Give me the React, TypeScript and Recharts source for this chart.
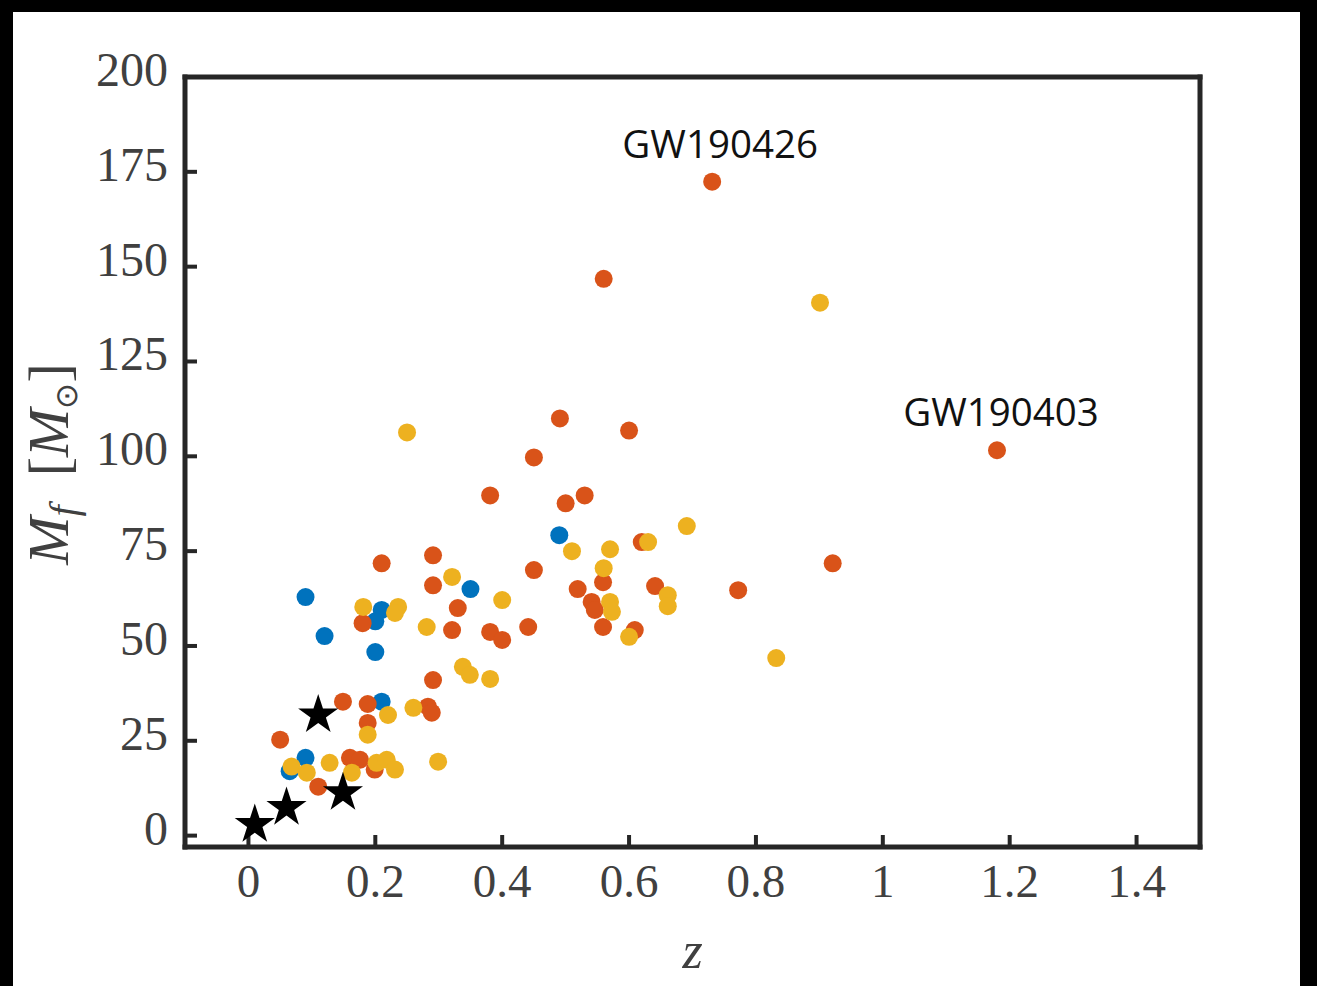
import { ScatterChart, Scatter, XAxis, YAxis, Symbols } from 'recharts';

// axis setup
const xTicks = [0, 0.2, 0.4, 0.6, 0.8, 1, 1.2, 1.4];
const yTicks = [0, 25, 50, 75, 100, 125, 150, 175, 200];

// [z, M_f]
const bluePoints = [
  [0.49, 79.2], [0.09, 62.9], [0.35, 65], [0.21, 59.5], [0.2, 56.5],
  [0.12, 52.6], [0.2, 48.4], [0.21, 35.3], [0.09, 20.5], [0.065, 17],
];

const redPoints = [
  [0.731, 172.4], [0.56, 146.8], [1.18, 101.6], [0.491, 110], [0.6, 106.8],
  [0.45, 99.7], [0.381, 89.7], [0.53, 89.7], [0.5, 87.6], [0.921, 71.8],
  [0.772, 64.7], [0.641, 65.8], [0.62, 77.4], [0.45, 70], [0.559, 66.8],
  [0.519, 65], [0.541, 61.6], [0.546, 59.5], [0.559, 55], [0.609, 54.2],
  [0.441, 55], [0.381, 53.7], [0.4, 51.6], [0.21, 71.8], [0.291, 73.9],
  [0.291, 66], [0.33, 60], [0.18, 56], [0.321, 54.2], [0.291, 41],
  [0.149, 35.3], [0.188, 34.7], [0.188, 29.7], [0.283, 34], [0.289, 32.4],
  [0.05, 25.3], [0.16, 20.5], [0.176, 20], [0.199, 17.4], [0.11, 12.9],
];

const yellowPoints = [
  [0.901, 140.5], [0.25, 106.3], [0.691, 81.6], [0.63, 77.4], [0.51, 75],
  [0.57, 75.5], [0.56, 70.5], [0.57, 61.6], [0.573, 59], [0.661, 63.4],
  [0.661, 60.5], [0.6, 52.4], [0.832, 46.8], [0.321, 68.2], [0.4, 62.1],
  [0.181, 60.3], [0.236, 60.3], [0.231, 58.7], [0.281, 55], [0.338, 44.5],
  [0.349, 42.4], [0.381, 41.3], [0.22, 31.8], [0.188, 26.6], [0.26, 33.7],
  [0.068, 18.2], [0.092, 16.6], [0.128, 19.2], [0.163, 16.6], [0.202, 19.2],
  [0.218, 20], [0.231, 17.4], [0.299, 19.5],
];

const starPoints = [
  [0.11, 31.8], [0.149, 11.3], [0.06, 7.4], [0.01, 2.9],
];

const annotations = [
  { z: 0.731, m: 172.4, text: 'GW190426', dx: 8 },
  { z: 1.18, m: 101.6, text: 'GW190403', dx: 4 },
];

const BLUE = '#0072BD';
const RED = '#D95319';
const YELLOW = '#EDB120';
const AXIS = '#262626';
const SERIF = '"Liberation Serif", "Times New Roman", serif';

const toRows = (pts: number[][]) => pts.map(([z, m]) => ({ z, m }));

const dot = (color: string) => (p: any) =>
  p.cx == null ? <g /> : <circle cx={p.cx} cy={p.cy} r={9} fill={color} />;

const star = (p: any) =>
  p.cx == null ? <g /> : <Symbols cx={p.cx} cy={p.cy} type="star" size={500} fill="#000" />;

const annotation = (p: any) =>
  p.cx == null ? <g /> : (
    <text
      x={p.cx + p.payload.dx}
      y={p.cy - 24}
      textAnchor="middle"
      fontFamily='"Open Sans", sans-serif'
      fontSize={38.5}
      fill="#111"
    >
      {p.payload.text}
    </text>
  );

const XTick = (p: any) => (
  <text x={p.x} y={p.y + 50} textAnchor="middle" fontFamily={SERIF} fontSize={47} fill="#404040">
    {p.payload.value}
  </text>
);

const YTick = (p: any) => (
  <text x={p.x} y={p.y + 9} textAnchor="end" fontFamily={SERIF} fontSize={48} fill="#404040">
    {p.payload.value}
  </text>
);

const XLabel = (p: any) => {
  const vb = p.viewBox;
  return (
    <text x={vb.x + vb.width / 2} y={vb.y + 121} textAnchor="middle" fontFamily={SERIF}
      fontStyle="italic" fontSize={52} fill="#404040">
      z
    </text>
  );
};

const YLabel = () => {
  const cx = 68;
  const cy = 464;
  return (
    <text x={cx} y={cy} transform={`rotate(-90, ${cx}, ${cy})`} textAnchor="middle"
      fontFamily={SERIF} fontSize={58} fill="#404040">
      <tspan fontStyle="italic">M</tspan>
      <tspan fontStyle="italic" fontSize={40} dy={9}>f</tspan>
      <tspan dy={-9}>{'\u2002['}</tspan>
      <tspan fontStyle="italic">M</tspan>
      <tspan fontSize={31} dy={9}>{'\u2299'}</tspan>
      <tspan dy={-9}>]</tspan>
    </text>
  );
};

const axisLine = { stroke: AXIS, strokeWidth: 5, strokeLinecap: 'square' as const };
const tickLine = { stroke: AXIS, strokeWidth: 4 };

export default function App() {
  return (
    <div style={{ position: 'absolute', left: 0, top: 0, width: 1317, height: 986, background: '#fff' }}>
      <ScatterChart width={1317} height={986} margin={{ top: 76, right: 116, bottom: 0, left: 13 }}>
        <XAxis type="number" dataKey="z" xAxisId={0} domain={[-0.1, 1.5]} ticks={xTicks}
          interval={0} allowDataOverflow height={139} tickSize={-12} tickMargin={12}
          axisLine={axisLine} tickLine={tickLine} tick={XTick} label={{ content: XLabel }} />
        <XAxis type="number" xAxisId="top" orientation="top" domain={[-0.1, 1.5]} ticks={xTicks}
          interval={0} allowDataOverflow height={1} tickSize={-12} tick={false}
          axisLine={axisLine} tickLine={tickLine} />
        <YAxis type="number" dataKey="m" yAxisId={0} domain={[-3, 200]} ticks={yTicks}
          interval={0} allowDataOverflow width={172} tickSize={-12} tickMargin={29}
          axisLine={axisLine} tickLine={tickLine} tick={YTick} label={{ content: YLabel }} />
        <YAxis type="number" yAxisId="right" orientation="right" domain={[-3, 200]} ticks={yTicks}
          interval={0} allowDataOverflow width={1} tickSize={-12} tick={false}
          axisLine={axisLine} tickLine={tickLine} />
        <Scatter data={toRows(bluePoints)} shape={dot(BLUE)} isAnimationActive={false} />
        <Scatter data={toRows(redPoints)} shape={dot(RED)} isAnimationActive={false} />
        <Scatter data={toRows(yellowPoints)} shape={dot(YELLOW)} isAnimationActive={false} />
        <Scatter data={toRows(starPoints)} shape={star} isAnimationActive={false} />
        <Scatter data={annotations.map(a => ({ ...a }))} dataKey="m" shape={annotation}
          isAnimationActive={false} />
      </ScatterChart>
      <div style={{ position: 'absolute', left: 0, top: 0, width: 1317, height: 12, background: '#000' }} />
      <div style={{ position: 'absolute', left: 0, top: 0, width: 13, height: 986, background: '#000' }} />
      <div style={{ position: 'absolute', right: 0, top: 0, width: 17, height: 986, background: '#000' }} />
    </div>
  );
}
